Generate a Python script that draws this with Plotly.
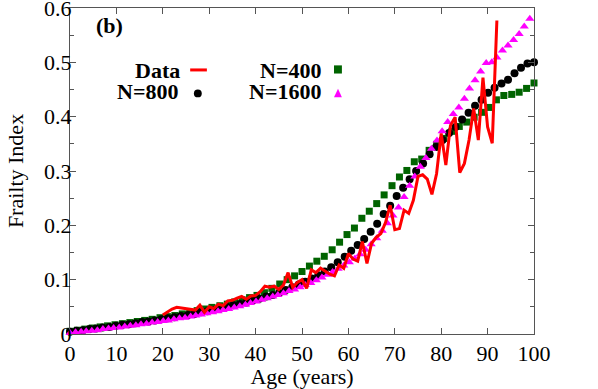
import plotly.graph_objects as go

# model curves (N = population size) and the observed data
age_400 = [0.0, 1.6, 3.2, 4.8, 6.5, 8.1, 9.7, 11.3, 12.9, 14.5, 16.1, 17.7, 19.4, 21.0, 22.6,
           24.2, 25.8, 27.4, 29.0, 30.6, 32.3, 33.9, 35.5, 37.1, 38.7, 40.3, 41.9, 43.5, 45.2,
           46.8, 48.4, 50.0, 51.6, 53.2, 54.8, 56.5, 58.1, 59.7, 61.3, 62.9, 64.5, 66.1, 67.7,
           69.4, 71.0, 72.6, 74.2, 75.8, 77.4, 79.0, 80.6, 82.3, 83.9, 85.5, 87.1, 88.7, 90.3,
           91.9, 93.5, 95.2, 96.8, 98.4, 100.0]
fi_400 = [0.005, 0.007, 0.009, 0.011, 0.013, 0.015, 0.017, 0.019, 0.021, 0.023, 0.025, 0.027,
          0.030, 0.032, 0.034, 0.037, 0.040, 0.043, 0.046, 0.049, 0.052, 0.055, 0.059, 0.063,
          0.067, 0.071, 0.076, 0.084, 0.092, 0.100, 0.107, 0.115, 0.125, 0.134, 0.143, 0.155,
          0.169, 0.183, 0.195, 0.213, 0.226, 0.240, 0.256, 0.273, 0.289, 0.301, 0.317, 0.322,
          0.338, 0.349, 0.360, 0.373, 0.382, 0.390, 0.399, 0.408, 0.417, 0.431, 0.439, 0.441,
          0.445, 0.452, 0.462]

age_800 = [0.0, 1.4, 2.8, 4.2, 5.6, 7.0, 8.5, 9.9, 11.3, 12.7, 14.1, 15.5, 16.9, 18.3, 19.7,
           21.1, 22.5, 23.9, 25.4, 26.8, 28.2, 29.6, 31.0, 32.4, 33.8, 35.2, 36.6, 38.0, 39.4,
           40.8, 42.3, 43.7, 45.1, 46.5, 47.9, 49.3, 50.7, 52.1, 53.5, 54.9, 56.3, 57.7, 59.2,
           60.6, 62.0, 63.4, 64.8, 66.2, 67.6, 69.0, 70.4, 71.8, 73.2, 74.6, 76.1, 77.5, 78.9,
           80.3, 81.7, 83.1, 84.5, 85.9, 87.3, 88.7, 90.1, 91.5, 93.0, 94.4, 95.8, 97.2, 98.6,
           100.0]
fi_800 = [0.004, 0.006, 0.007, 0.009, 0.010, 0.012, 0.013, 0.015, 0.017, 0.018, 0.020, 0.022,
          0.023, 0.025, 0.027, 0.029, 0.031, 0.033, 0.035, 0.037, 0.040, 0.042, 0.044, 0.047,
          0.050, 0.053, 0.055, 0.058, 0.062, 0.065, 0.069, 0.072, 0.076, 0.081, 0.086, 0.091,
          0.096, 0.102, 0.108, 0.115, 0.123, 0.132, 0.142, 0.153, 0.164, 0.175, 0.188, 0.203,
          0.221, 0.236, 0.254, 0.269, 0.285, 0.300, 0.314, 0.331, 0.344, 0.357, 0.370, 0.381,
          0.395, 0.407, 0.420, 0.431, 0.444, 0.453, 0.461, 0.468, 0.480, 0.490, 0.498, 0.500]

age_1600 = [0.0, 1.2, 2.4, 3.5, 4.7, 5.9, 7.1, 8.3, 9.4, 10.6, 11.8, 13.0, 14.2, 15.3, 16.5,
            17.7, 18.9, 20.1, 21.2, 22.4, 23.6, 24.8, 26.0, 27.1, 28.3, 29.5, 30.7, 31.9, 33.0,
            34.2, 35.4, 36.6, 37.8, 38.9, 40.1, 41.3, 42.5, 43.7, 44.8, 46.0, 47.2, 48.4, 49.6,
            50.7, 51.9, 53.1, 54.3, 55.5, 56.6, 57.8, 59.0, 60.2, 61.4, 62.5, 63.7, 64.9, 66.1,
            67.3, 68.4, 69.6, 70.8, 72.0, 73.2, 74.3, 75.5, 76.7, 77.9, 79.1, 80.2, 81.4, 82.6,
            83.8, 85.0, 86.1, 87.3, 88.5, 89.7, 90.9, 92.0, 93.2, 94.4, 95.6, 96.8, 97.9, 99.1]
fi_1600 = [0.002, 0.003, 0.004, 0.005, 0.006, 0.007, 0.009, 0.010, 0.011, 0.012, 0.014, 0.015,
           0.016, 0.018, 0.019, 0.021, 0.022, 0.024, 0.025, 0.027, 0.029, 0.030, 0.032, 0.034,
           0.036, 0.038, 0.040, 0.042, 0.044, 0.046, 0.049, 0.051, 0.054, 0.057, 0.060, 0.063,
           0.066, 0.069, 0.072, 0.075, 0.079, 0.082, 0.086, 0.090, 0.094, 0.099, 0.104, 0.109,
           0.114, 0.120, 0.126, 0.132, 0.139, 0.147, 0.155, 0.165, 0.176, 0.190, 0.204, 0.218,
           0.233, 0.252, 0.273, 0.290, 0.308, 0.324, 0.341, 0.356, 0.373, 0.390, 0.405, 0.417,
           0.433, 0.452, 0.467, 0.483, 0.499, 0.500, 0.509, 0.522, 0.531, 0.541, 0.552, 0.566,
           0.580]

data_age = list(range(20, 93))
data_fi = [0.035, 0.040, 0.046, 0.049, 0.048, 0.047, 0.046, 0.044, 0.053, 0.040, 0.050, 0.047,
           0.055, 0.052, 0.061, 0.062, 0.066, 0.069, 0.064, 0.070, 0.071, 0.078, 0.088, 0.086,
           0.088, 0.082, 0.090, 0.113, 0.086, 0.095, 0.100, 0.084, 0.118, 0.113, 0.121, 0.116,
           0.110, 0.107, 0.127, 0.121, 0.148, 0.138, 0.134, 0.170, 0.130, 0.167, 0.178, 0.185,
           0.205, 0.237, 0.192, 0.194, 0.228, 0.222, 0.246, 0.290, 0.293, 0.285, 0.257, 0.295,
           0.369, 0.311, 0.384, 0.399, 0.297, 0.314, 0.357, 0.415, 0.357, 0.472, 0.381, 0.351,
           0.577]

FONT = "Liberation Serif"

fig = go.Figure()
fig.add_trace(go.Scatter(x=age_400, y=fi_400, mode="markers", cliponaxis=False,
                         marker=dict(symbol="square", size=7, color="#006400")))
fig.add_trace(go.Scatter(x=age_800, y=fi_800, mode="markers", cliponaxis=False,
                         marker=dict(symbol="circle", size=8, color="black")))
fig.add_trace(go.Scatter(x=age_1600, y=fi_1600, mode="markers", cliponaxis=False,
                         marker=dict(symbol="triangle-up", size=8, color="#ff00ff")))
fig.add_trace(go.Scatter(x=data_age, y=data_fi, mode="lines",
                         line=dict(color="#ff0000", width=3)))

axis_common = dict(
    showline=True, linecolor="#555555", linewidth=1, mirror="ticks",
    ticks="inside", ticklen=6, tickcolor="#555555", showgrid=False, zeroline=False,
    tickfont=dict(family=FONT, size=22, color="black"), automargin=False,
    ticklabeloverflow="allow",
)
fig.update_xaxes(range=[0, 100], dtick=10, title=dict(text="Age (years)", standoff=0,
                 font=dict(family=FONT, size=22, color="black")), **axis_common)
fig.update_yaxes(range=[0, 0.6], dtick=0.1, ticklabelstandoff=-7,
                 minor=dict(dtick=0.05, ticks="inside", ticklen=4, tickcolor="#555555"),
                 title=dict(text="Frailty Index", standoff=14,
                            font=dict(family=FONT, size=22, color="black")), **axis_common)

# legend written as text, symbols to the right of the labels
def label(text, x, y, anchor="right"):
    fig.add_annotation(text=text, x=x, y=y, xref="paper", yref="paper", showarrow=False,
                       xanchor=anchor, yanchor="middle",
                       font=dict(family=FONT, size=22, color="black"))

label("<b>(b)</b>", 0.052, 0.945, anchor="left")
label("<b>Data</b>", 0.241, 0.809)
label("<b>N=800</b>", 0.237, 0.744)
label("<b>N=400</b>", 0.546, 0.809)
label("<b>N=1600</b>", 0.546, 0.744)
fig.add_shape(type="line", xref="paper", yref="paper", x0=0.259, x1=0.295, y0=0.810, y1=0.810,
              line=dict(color="#ff0000", width=3))
fig.add_shape(type="circle", xref="paper", yref="paper", x0=0.267, x1=0.284, y0=0.726, y1=0.750,
              fillcolor="black", line=dict(width=0))
fig.add_shape(type="rect", xref="paper", yref="paper", x0=0.569, x1=0.586, y0=0.799, y1=0.824,
              fillcolor="#006400", line=dict(width=0))
fig.add_shape(type="path", xref="paper", yref="paper",
              path="M 0.569 0.726 L 0.586 0.726 L 0.5776 0.752 Z",
              fillcolor="#ff00ff", line=dict(width=0))

fig.update_layout(
    width=598, height=389, showlegend=False,
    margin=dict(l=70, r=64, t=8, b=55),
    paper_bgcolor="white", plot_bgcolor="white",
)

# the page body otherwise adds an 8px offset around the figure
fig.write_html("out.html", config={"displayModeBar": False},
               post_script="document.body.style.margin='0';")
